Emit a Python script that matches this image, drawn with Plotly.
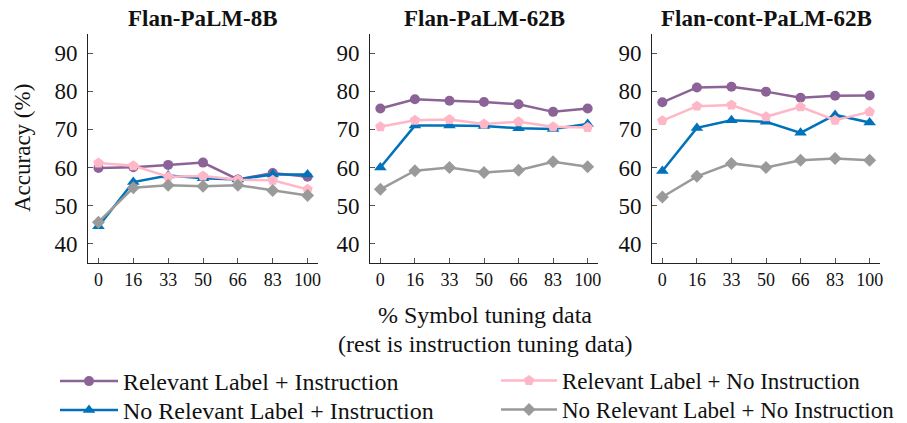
import plotly.graph_objects as go

x_ticks = ["0", "16", "33", "50", "66", "83", "100"]
x_pos = list(range(len(x_ticks)))

panel_titles = ["Flan-PaLM-8B", "Flan-PaLM-62B", "Flan-cont-PaLM-62B"]

series_names = [
    "Relevant Label + Instruction",
    "No Relevant Label + Instruction",
    "Relevant Label + No Instruction",
    "No Relevant Label + No Instruction",
]

# values per panel
rel_instr = [
    [59.9, 60.1, 60.7, 61.3, 56.9, 58.6, 57.6],
    [75.5, 77.9, 77.5, 77.2, 76.6, 74.6, 75.5],
    [77.1, 81.0, 81.2, 79.9, 78.3, 78.8, 78.9],
]
norel_instr = [
    [44.6, 56.2, 57.9, 57.2, 56.9, 58.2, 58.2],
    [60.0, 71.0, 71.0, 70.9, 70.3, 70.1, 71.4],
    [59.1, 70.4, 72.4, 72.0, 69.1, 73.8, 71.8],
]
rel_noinstr = [
    [61.2, 60.5, 57.6, 57.8, 56.8, 56.7, 54.3],
    [70.7, 72.4, 72.6, 71.4, 72.0, 70.7, 70.5],
    [72.3, 76.1, 76.4, 73.3, 75.9, 72.4, 74.6],
]
norel_noinstr = [
    [45.7, 54.7, 55.4, 55.1, 55.4, 54.0, 52.7],
    [54.3, 59.2, 60.0, 58.7, 59.3, 61.5, 60.2],
    [52.3, 57.7, 61.1, 60.0, 61.9, 62.4, 61.9],
]

y_ticks = [40, 50, 60, 70, 80, 90]

series = [
    (series_names[0], rel_instr, "#8B6396", "circle", 10, "legend"),
    (series_names[1], norel_instr, "#0072BC", "triangle-up", 11, "legend2"),
    (series_names[2], rel_noinstr, "#FFB6C6", "pentagon", 11, "legend3"),
    (series_names[3], norel_noinstr, "#9A9A9A", "diamond", 10, "legend4"),
]

W, H = 907, 423
OFF = 8  # page body margin offset
ml = 88 - OFF
mt = 34 - OFF
mb = H - (263 - OFF)
mr = W - (880 - OFF)
pw = W - ml - mr
ph = H - mt - mb
px_domains = [(88, 318), (370, 598), (652, 880)]
domains = [((a - OFF - ml) / pw, (b - OFF - ml) / pw) for a, b in px_domains]


def px_x(v):
    return (v - OFF - ml) / pw


def px_y(v):
    return (H - mb - (v - OFF)) / ph


FONT = "Liberation Serif"

fig = go.Figure()
for p in range(3):
    xa = "x" if p == 0 else f"x{p+1}"
    ya = "y" if p == 0 else f"y{p+1}"
    for name, vals, color, sym, size, lg in series:
        fig.add_trace(go.Scatter(
            x=x_pos, y=vals[p], name=name, mode="lines+markers",
            line=dict(color=color, width=2.5),
            marker=dict(color=color, symbol=sym, size=size),
            xaxis=xa, yaxis=ya, showlegend=(p == 0), legend=lg,
        ))

axis_common = dict(showline=True, linecolor="#222", linewidth=1, ticks="inside",
                   ticklen=5, tickcolor="#555", showgrid=False, zeroline=False,
                   mirror=False)
layout_axes = {}
for p in range(3):
    sx = "" if p == 0 else str(p + 1)
    layout_axes["xaxis" + sx] = dict(
        domain=list(domains[p]), anchor="y" + sx, range=[-0.3, 6.3],
        tickvals=x_pos, ticktext=x_ticks,
        tickfont=dict(family=FONT, size=18, color="#111"), **axis_common)
    layout_axes["yaxis" + sx] = dict(
        domain=[0, 1], anchor="x" + sx, range=[35, 95],
        tickvals=y_ticks, tickfont=dict(family=FONT, size=23, color="#111"),
        ticklabelstandoff=5, **axis_common)
    fig.add_annotation(
        text=f"<b>{panel_titles[p]}</b>", xref="paper", yref="paper",
        x=(domains[p][0] + domains[p][1]) / 2, y=px_y(18),
        xanchor="center", yanchor="middle", showarrow=False,
        font=dict(family=FONT, size=23, color="#111"))

fig.add_annotation(text="Accuracy (%)", xref="paper", yref="paper",
                   x=px_x(22), y=px_y(148), textangle=-90,
                   xanchor="center", yanchor="middle", showarrow=False,
                   font=dict(family=FONT, size=23, color="#111"))
fig.add_annotation(text="% Symbol tuning data", xref="paper", yref="paper",
                   x=px_x(485), y=px_y(315),
                   xanchor="center", yanchor="middle", showarrow=False,
                   font=dict(family=FONT, size=24, color="#111"))
fig.add_annotation(text="(rest is instruction tuning data)", xref="paper", yref="paper",
                   x=px_x(485), y=px_y(344),
                   xanchor="center", yanchor="middle", showarrow=False,
                   font=dict(family=FONT, size=24, color="#111"))

legend_common = dict(xref="container", yref="container", xanchor="left",
                     yanchor="top", orientation="h", bgcolor="rgba(0,0,0,0)")
legend_pos = {"legend": (55, 359, 24, 58), "legend2": (55, 388, 24, 58),
              "legend3": (496, 359, 23, 56), "legend4": (496, 388, 23, 56)}
for k, (lx, ly, fs, iw) in legend_pos.items():
    layout_axes[k] = dict(x=(lx - OFF) / W, y=1 - (ly - OFF) / H,
                          font=dict(family=FONT, size=fs, color="#111"),
                          itemwidth=iw, **legend_common)

fig.update_layout(
    width=W, height=H, margin=dict(l=ml, r=mr, t=mt, b=mb),
    plot_bgcolor="white", paper_bgcolor="white",
    **layout_axes,
)

fig.write_html("out.html")
